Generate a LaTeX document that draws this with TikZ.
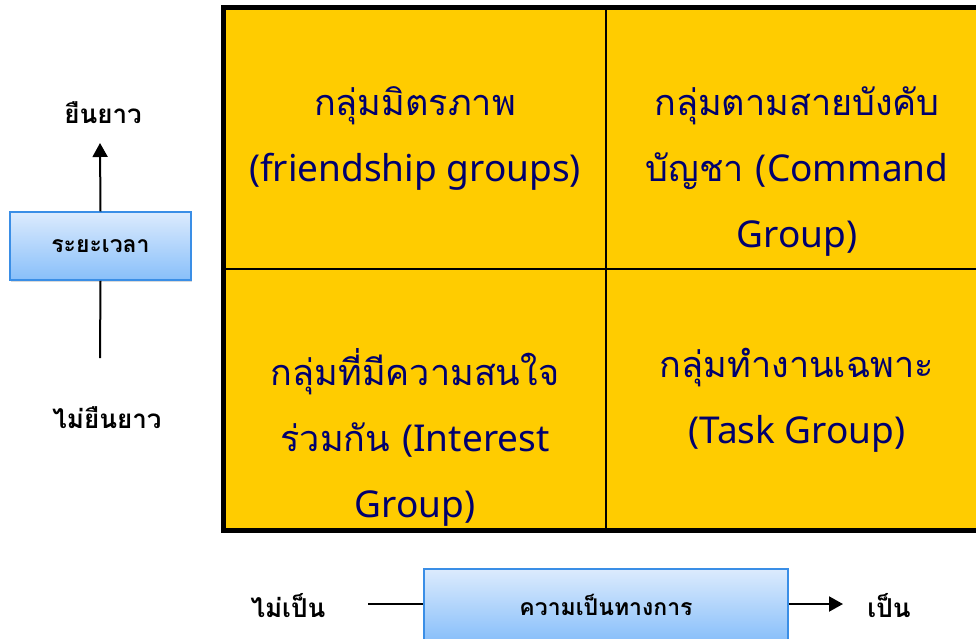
\documentclass[tikz,border=0pt]{standalone}
\usepackage{fontspec}
\newfontfamily\thaifont[Script=Thai]{Loma}
\newfontfamily\latinfont{Noto Sans}
\usetikzlibrary{arrows.meta,positioning,shadows}

\definecolor{cellyellow}{HTML}{FFCC00}
\definecolor{cellnavy}{HTML}{00006E}
\definecolor{boxtop}{HTML}{DCEBFD}
\definecolor{boxbottom}{HTML}{88BFFA}
\definecolor{boxline}{HTML}{3A8EE6}

\newcommand{\lat}[1]{{\latinfont\fontsize{37}{66}\selectfont #1}}

\begin{document}
\begin{tikzpicture}[x=1pt,y=-1pt]
    \tikzset{cell/.style = {fill=cellyellow, minimum width=382pt, minimum height=261pt, inner sep=0pt}}
    \tikzset{celltext/.style = {anchor=north, align=center, text=cellnavy, font=\thaifont\fontsize{36}{66}\selectfont, inner sep=0pt}}
    \tikzset{axisbox/.style = {draw=boxline, line width=1.5pt, top color=boxtop, bottom color=boxbottom, drop shadow={opacity=0.3, shadow xshift=1pt, shadow yshift=-2pt}, font=\thaifont\bfseries\fontsize{23}{26}\selectfont}}
    \tikzset{axislabel/.style = {font=\thaifont\bfseries\fontsize{26}{28}\selectfont, inner sep=0pt}}
    \tikzset{axis/.style = {line width=2pt, -{Triangle[length=14pt, width=15pt]}}}

    \useasboundingbox (0,0) rectangle (976,638);

    % cells
    \node[cell] (tl) at (415,138.5) {};
    \node[cell] (tr) at (797,138.5) {};
    \node[cell] (bl) at (415,400) {};
    \node[cell] (br) at (797,400) {};
    \draw[line width=2.5pt] (tl.north east) -- (bl.south east);
    \draw[line width=2.5pt] (tl.south west) -- (tr.south east);
    \draw[line width=5pt] (tr.north east) -- (tl.north west) -- (bl.south west) -- (br.south east);

    % cell texts
    \node[celltext] (tltext) at ([yshift=-79pt]tl.north) {กลุ่มมิตรภาพ\\\lat{(friendship groups)}};
    \node[celltext] (trtext) at ([yshift=-79pt]tr.north) {กลุ่มตามสายบังคับ\\บัญชา \lat{(Command}\\\lat{Group)}};
    \node[celltext] (bltext) at ([yshift=-79pt]bl.north) {กลุ่มที่มีความสนใจ\\ร่วมกัน \lat{(Interest}\\\lat{Group)}};
    \node[celltext] (brtext) at ([yshift=-79pt]br.north) {กลุ่มทำงานเฉพาะ\\\lat{(Task Group)}};

    % time axis
    \node[axisbox, minimum width=181pt, minimum height=68pt] (time) at (100.5,246) {ระยะเวลา};
    \node[axislabel] (long) at (103,113) {ยืนยาว};
    \node[axislabel] (short) at (107,418) {ไม่ยืนยาว};
    \coordinate (timeup) at (100,143);
    \coordinate (timedown) at (100,358);
    \draw[axis] (time.north) -- (timeup);
    \draw[line width=2pt] (time.south) -- (timedown);

    % formality axis
    \node[axisbox, minimum width=364pt, minimum height=72pt] (formal) at (606,605) {ความเป็นทางการ};
    \node[axislabel] (informal) at (288,606) {ไม่เป็น};
    \node[axislabel] (isformal) at (889,606) {เป็น};
    \coordinate (formalleft) at (368,604);
    \coordinate (formalright) at (843,604);
    \draw[line width=2pt] (formalleft) -- (formal.west |- formalleft);
    \draw[axis] (formal.east |- formalright) -- (formalright);
\end{tikzpicture}
\end{document}
